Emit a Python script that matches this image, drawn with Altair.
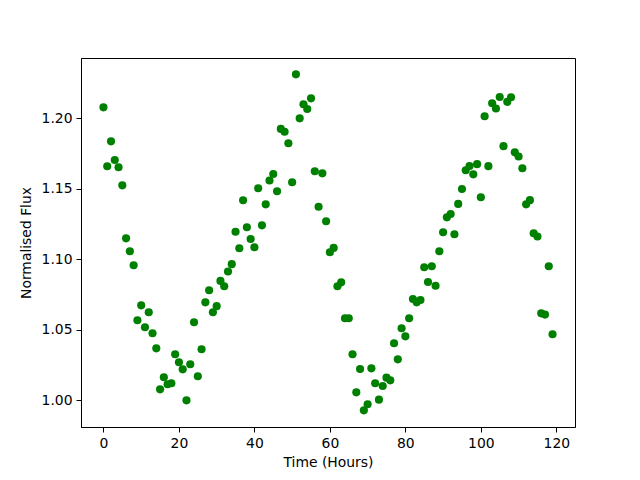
import altair as alt
import pandas as pd

hours = list(range(120))
flux = [
    1.2079, 1.1661, 1.1838, 1.1706, 1.1654, 1.1526, 1.1150, 1.1058, 1.0959, 1.0569,
    1.0675, 1.0519, 1.0626, 1.0477, 1.0370, 1.0079, 1.0165, 1.0115, 1.0122, 1.0328,
    1.0271, 1.0221, 1.0001, 1.0257, 1.0555, 1.0172, 1.0363, 1.0696, 1.0782, 1.0626,
    1.0669, 1.0848, 1.0810, 1.0915, 1.0967, 1.1197, 1.1080, 1.1420, 1.1229, 1.1145,
    1.1087, 1.1505, 1.1242, 1.1391, 1.1560, 1.1606, 1.1484, 1.1926, 1.1906, 1.1824,
    1.1548, 1.2313, 1.2001, 1.2101, 1.2067, 1.2143, 1.1626, 1.1374, 1.1611, 1.1271,
    1.1051, 1.1082, 1.0810, 1.0838, 1.0583, 1.0583, 1.0328, 1.0058, 1.0223, 0.9930,
    0.9973, 1.0228, 1.0122, 1.0006, 1.0103, 1.0162, 1.0143, 1.0406, 1.0292, 1.0512,
    1.0455, 1.0583, 1.0720, 1.0696, 1.0713, 1.0945, 1.0840, 1.0952, 1.0814, 1.1058,
    1.1193, 1.1299, 1.1323, 1.1179, 1.1394, 1.1500, 1.1633, 1.1663, 1.1604, 1.1676,
    1.1441, 1.2016, 1.1662, 1.2108, 1.2071, 1.2152, 1.1804, 1.2118, 1.2151, 1.1760,
    1.1730, 1.1647, 1.1391, 1.1421, 1.1186, 1.1163, 1.0618, 1.0609, 1.0952, 1.0470,
]
x_ticks = [0, 20, 40, 60, 80, 100, 120]
y_ticks = [1.00, 1.05, 1.10, 1.15, 1.20]

df = pd.DataFrame({"t": hours, "f": flux})

font = "DejaVu Sans"

chart = alt.Chart(df).mark_circle(size=66, color="#008000", opacity=1).encode(
    x=alt.X("t:Q", title="Time (Hours)",
            scale=alt.Scale(domain=[-5.95, 124.95], nice=False, zero=False),
            axis=alt.Axis(values=x_ticks, format="d")),
    y=alt.Y("f:Q", title="Normalised Flux",
            scale=alt.Scale(domain=[0.9812, 1.2429], nice=False, zero=False),
            axis=alt.Axis(values=y_ticks, format=".2f")),
).properties(
    width=494, height=369,
    autosize="none",
    padding={"left": 73, "top": 50, "right": 57, "bottom": 45},
).configure_view(
    stroke="black", strokeWidth=1
).configure_axis(
    grid=False,
    domainColor="black", domainWidth=1,
    tickColor="black", tickSize=5, tickWidth=1,
    labelFont=font, labelFontSize=13.9, labelColor="black", labelPadding=4,
    titleFont=font, titleFontSize=13.9, titleFontWeight="normal", titleColor="black",
).configure_axisX(
    titlePadding=6, labelFlush=False,
).configure_axisY(
    titlePadding=8, labelFlush=False,
)

chart.save("out.html", embed_options={"renderer": "svg", "actions": False})
